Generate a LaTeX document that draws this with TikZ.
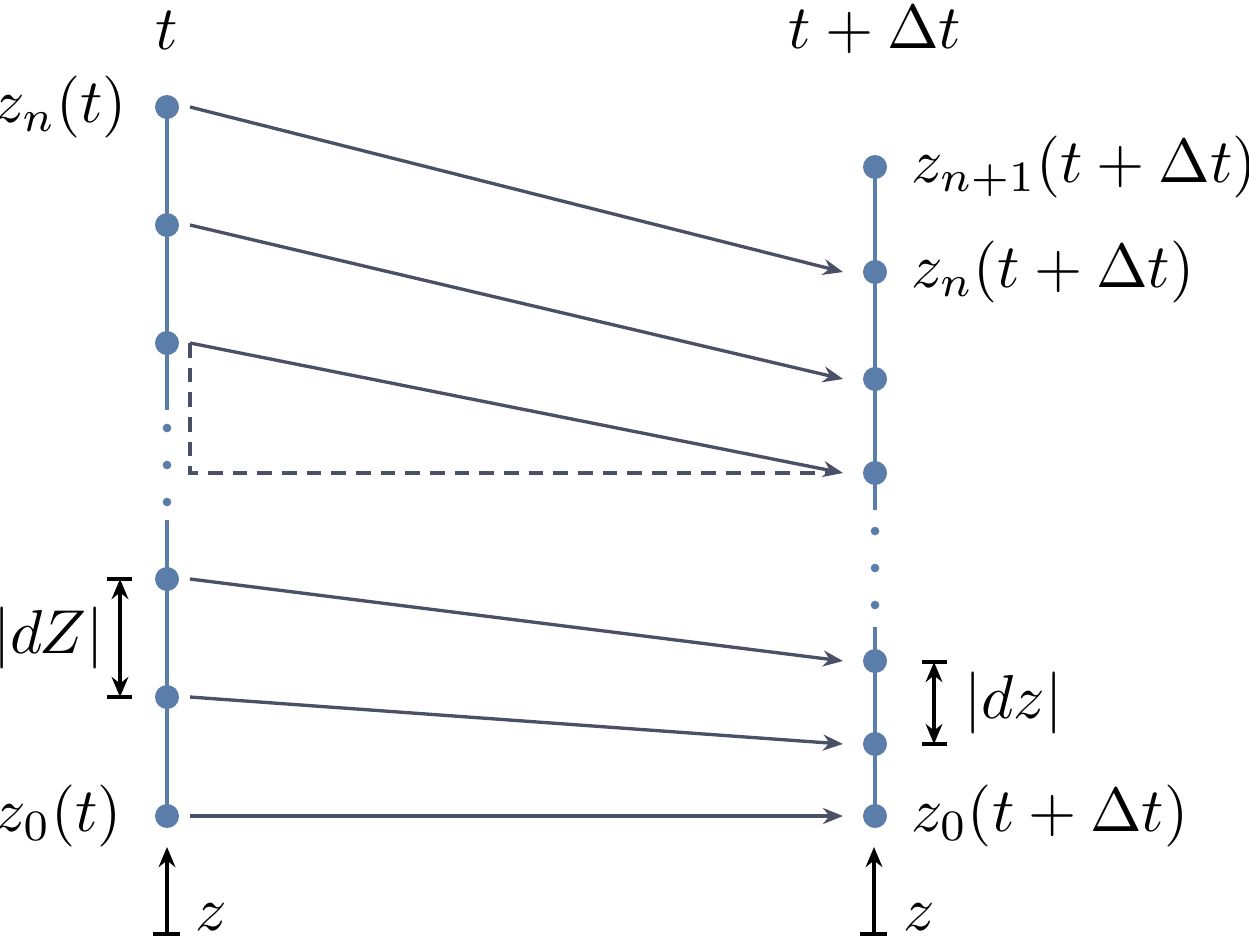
\documentclass[tikz,border=0pt]{standalone}
\usetikzlibrary{arrows.meta}
\definecolor{dotblue}{HTML}{5B7DAA}
\definecolor{arrgray}{HTML}{4A5066}
\begin{document}
\begin{tikzpicture}[x=0.15pt,y=-0.15pt,
  bigdot/.style={circle,fill=dotblue,inner sep=0pt,minimum size=3.6pt},
  smalldot/.style={circle,fill=dotblue,inner sep=0pt,minimum size=1.3pt},
  colline/.style={dotblue,line width=0.5pt},
  flow/.style={arrgray,line width=0.5pt,-{Stealth[length=3pt,width=2.4pt]}},
  flowdash/.style={arrgray,line width=0.5pt,dash pattern=on 2.2pt off 1.5pt},
  measure/.style={black,line width=0.55pt,{Stealth[length=3pt,width=2.5pt]}-{Stealth[length=3pt,width=2.5pt]}},
  axisarr/.style={black,line width=0.55pt,-{Stealth[length=3pt,width=2.5pt]}},
  tick/.style={black,line width=0.55pt},
  lab/.style={inner sep=0pt,scale=0.93}]
\useasboundingbox (0,0) rectangle (1249,936);
% column lines
\coordinate (La) at (167,107); \coordinate (Lb) at (167,410);
\coordinate (Lc) at (167,520); \coordinate (Ld) at (167,816);
\coordinate (Ra) at (875,167); \coordinate (Rb) at (875,510);
\coordinate (Rc) at (875,627); \coordinate (Rd) at (875,816);
\draw[colline] (La) -- (Lb);
\draw[colline] (Lc) -- (Ld);
\draw[colline] (Ra) -- (Rb);
\draw[colline] (Rc) -- (Rd);
% left dots
\node[bigdot] (L1) at (167,107) {};
\node[bigdot] (L2) at (167,225) {};
\node[bigdot] (L3) at (167,343) {};
\node[smalldot] (Ls1) at (167,428) {};
\node[smalldot] (Ls2) at (167,465) {};
\node[smalldot] (Ls3) at (167,502) {};
\node[bigdot] (L4) at (167,579) {};
\node[bigdot] (L5) at (167,697) {};
\node[bigdot] (L6) at (167,816) {};
% right dots
\node[bigdot] (R1) at (875,167) {};
\node[bigdot] (R2) at (875,272) {};
\node[bigdot] (R3) at (875,379) {};
\node[bigdot] (R4) at (875,473) {};
\node[smalldot] (Rs1) at (875,531) {};
\node[smalldot] (Rs2) at (875,568) {};
\node[smalldot] (Rs3) at (875,605) {};
\node[bigdot] (R5) at (875,661) {};
\node[bigdot] (R6) at (875,744) {};
\node[bigdot] (R7) at (875,816) {};
% flow arrows
\draw[flow] ([xshift=3.45pt]L1.center) -- ([xshift=-4.8pt]R2.center);
\draw[flow] ([xshift=3.45pt]L2.center) -- ([xshift=-4.8pt]R3.center);
\draw[flow] ([xshift=3.45pt]L3.center) -- ([xshift=-4.8pt]R4.center);
\draw[flow] ([xshift=3.45pt]L4.center) -- ([xshift=-4.8pt]R5.center);
\draw[flow] ([xshift=3.45pt]L5.center) -- ([xshift=-4.8pt]R6.center);
\draw[flow] ([xshift=3.45pt]L6.center) -- ([xshift=-4.8pt]R7.center);
\draw[flowdash] ([xshift=3.45pt]L3.center) |- ([xshift=-7pt]R4.center);
% headers
\node[lab] (ht) at (167,30) {$t$};
\node[lab] (htd) at (875,30) {$t+\Delta t$};
% labels
\node[lab,anchor=east] (lzn) at (128,107) {$z_n(t)$};
\node[lab,anchor=east] (lz0) at (123,816) {$z_0(t)$};
\node[lab,anchor=west] (rzn1) at (910,167) {$z_{n+1}(t+\Delta t)$};
\node[lab,anchor=west] (rzn) at (910,272) {$z_n(t+\Delta t)$};
\node[lab,anchor=west] (rz0) at (910,816) {$z_0(t+\Delta t)$};
% |dZ|
\coordinate (dZt) at (120,579); \coordinate (dZb) at (120,697);
\draw[tick] (107,579) -- (132,579);
\draw[tick] (107,697) -- (132,697);
\draw[measure] (dZt) -- (dZb);
\node[lab,anchor=east] (ldZ) at (105,638) {$|dZ|$};
% |dz|
\coordinate (dzt) at (934,662); \coordinate (dzb) at (934,744);
\draw[tick] (922,662) -- (947,662);
\draw[tick] (922,744) -- (947,744);
\draw[measure] (dzt) -- (dzb);
\node[lab,anchor=west] (ldz) at (963,703) {$|dz|$};
% z axes
\coordinate (zLb) at (167,934); \coordinate (zLt) at (167,847);
\draw[tick] (153,934) -- (180,934);
\draw[axisarr] (zLb) -- (zLt);
\node[lab,anchor=west] (zL) at (194,917) {$z$};
\coordinate (zRb) at (874,934); \coordinate (zRt) at (874,847);
\draw[tick] (860,934) -- (887,934);
\draw[axisarr] (zRb) -- (zRt);
\node[lab,anchor=west] (zR) at (902,917) {$z$};
\end{tikzpicture}
\end{document}
